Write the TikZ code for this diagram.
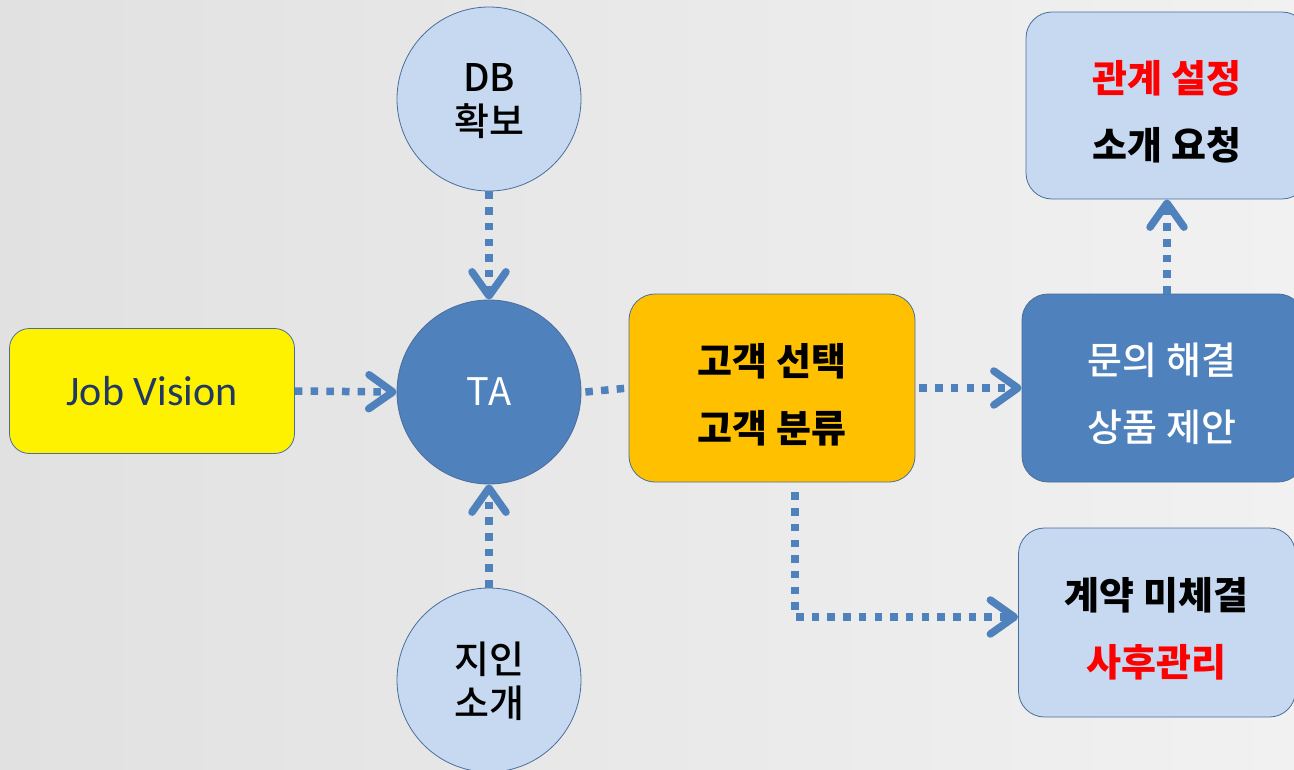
\documentclass[tikz,border=0pt]{standalone}
\usepackage{fontspec}
\setmainfont{Carlito}
\newfontfamily\kr{Noto Sans CJK KR}
\newfontfamily\krm{Noto Sans CJK KR}[UprightFont=* Medium]
\usetikzlibrary{arrows.meta}
\definecolor{bgl}{HTML}{E1E1E1}
\definecolor{bgr}{HTML}{F1F1F1}
\definecolor{ablue}{HTML}{4F81BD}
\definecolor{lblue}{HTML}{C6D9F1}
\definecolor{edgec}{HTML}{4A6E9B}
\definecolor{gold}{HTML}{FFC000}
\definecolor{navy}{HTML}{1F3864}
\definecolor{kred}{HTML}{FF0000}
\begin{document}
\begin{tikzpicture}[x=1pt,y=-1pt,
  box/.style={draw=edgec, line width=0.8pt, rounded corners=26pt, inner sep=0pt},
  circ/.style={circle, draw=edgec, line width=0.8pt, minimum size=184pt, inner sep=0pt},
  conn/.style={draw=ablue, line width=7.5pt, dash pattern=on 7.5pt off 8.2pt},
  tip/.style={-{Straight Barb[length=24pt,width=34pt,round]}},
  krbold/.style={align=center, inner sep=0pt, font=\kr\bfseries\fontsize{38}{67}\selectfont},
  krmed/.style={align=center, inner sep=0pt, font=\krm\fontsize{38}{67}\selectfont},
  krcirc/.style={align=center, inner sep=0pt, font=\krm\fontsize{38}{44}\selectfont}]
\useasboundingbox (0,0) rectangle (1294,769);
\shade[left color=bgl, right color=bgr] (0,0) rectangle (1294,769);

% shapes
\node[box, rounded corners=20pt, fill=yellow, minimum width=285pt, minimum height=125pt,
      font=\fontsize{42}{50}\selectfont, text=navy] (jv) at (152,391) {Job Vision};
\node[circ, fill=ablue, text=white, font=\kr\fontsize{38}{44}\selectfont] (ta) at (489,392) {TA};
\node[circ, fill=lblue] (db) at (489,99) {};
\node[circ, fill=lblue] (ji) at (489,680) {};
\node[box, fill=gold, minimum width=286pt, minimum height=188pt] (gk) at (772,388) {};
\node[box, fill=ablue, minimum width=282pt, minimum height=188pt] (mu) at (1163,388) {};
\node[box, fill=lblue, minimum width=282pt, minimum height=187pt] (gw) at (1167,105.5) {};
\node[box, fill=lblue, minimum width=277pt, minimum height=189pt] (gy) at (1157,622.5) {};

% texts
\node[krcirc] (dbt) at (489,101.5) {DB\\확보};
\node[krcirc] (jit) at (489,681) {지인\\소개};
\node[krbold] (gkt) at (772,394.5) {고객 선택\\고객 분류};
\node[krmed, text=white] (mut) at (1162,394) {문의 해결\\상품 제안};
\node[krbold] (gwt) at (1167,111.5) {\textcolor{kred}{관계 설정}\\소개 요청};
\node[krbold] (gyt) at (1156.5,628.5) {계약 미체결\\\textcolor{kred}{사후관리}};

% connectors
\coordinate (bend) at (795,617);
\draw[conn, tip] (jv.east) -- (ta.west);
\draw[conn, tip] (db.south) -- (ta.north);
\draw[conn, tip] (ji.north) -- (ta.south);
\draw[conn] ([xshift=4pt]ta.east) -- (gk.west);
\draw[conn, tip] ([xshift=4pt]gk.east) -- (mu.west);
\draw[conn, tip] (mu.north -| gw.south) -- (gw.south);
\draw[conn, tip] ([yshift=-10pt]gk.south -| bend) -- (bend) -- (gy.west |- bend);
\end{tikzpicture}
\end{document}
